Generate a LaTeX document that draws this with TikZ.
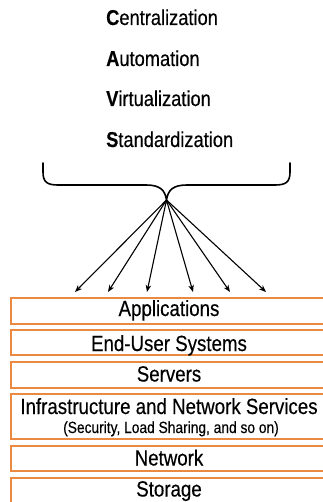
\documentclass[tikz,border=0pt]{standalone}
\usepackage{fontspec}
\setmainfont{Liberation Sans}[FakeStretch=0.85,FakeBold=0.35]
\usetikzlibrary{arrows.meta}
\definecolor{boxorange}{RGB}{234,138,66}
\tikzset{
  layer/.style={draw=boxorange, line width=1.6pt, minimum width=318pt, anchor=north west, inner sep=0pt, align=center},
  big/.style={font=\fontsize{22}{24}\selectfont},
  small/.style={font=\fontsize{16.2}{18}\selectfont},
  lbl/.style={anchor=base, inner sep=0pt},
  term/.style={anchor=base west, inner sep=0pt, font=\fontsize{21.5}{24}\selectfont},
  conn/.style={line width=1.1pt, -{Stealth[length=7pt,width=5.5pt,inset=2pt]}},
  bracestyle/.style={line width=1.6pt, line cap=round}
}
\begin{document}
\begin{tikzpicture}[x=1pt,y=-1pt]
\useasboundingbox (0,0) rectangle (322,502);
% terms
\node[term] (c) at (106,25) {\textbf{C}entralization};
\node[term] (a) at (106,66) {\textbf{A}utomation};
\node[term] (v) at (106,106) {\textbf{V}irtualization};
\node[term] (s) at (106,147) {\textbf{S}tandardization};
% brace
\draw[bracestyle] (43,163) -- (43,172) .. controls (43,182) and (47,185) .. (58,185) -- (146,185)
  .. controls (160,185) and (165,190) .. (166.5,200)
  .. controls (168,190) and (173,185) .. (187,185) -- (275,185)
  .. controls (286,185) and (290,182) .. (290,172) -- (290,163);
\coordinate (cusp) at (166.5,200);
\coordinate (e1) at (75,292);
\coordinate (e2) at (108,292);
\coordinate (e3) at (147,292);
\coordinate (e4) at (193,292);
\coordinate (e5) at (230,292);
\coordinate (e6) at (266,292);
\foreach \e in {e1,e2,e3,e4,e5,e6} \draw[conn] (cusp) -- (\e);
% layers
\node[layer, minimum height=26pt] (app) at (10,297) {};
\node[layer, minimum height=25pt] (eus) at (10,329) {};
\node[layer, minimum height=26pt] (srv) at (10,361) {};
\node[layer, minimum height=45pt] (inf) at (10,393) {};
\node[layer, minimum height=25pt] (net) at (10,445) {};
\node[layer, minimum height=30pt] (sto) at (10,477) {};
\node[lbl, big] (tapp) at (169,316) {Applications};
\node[lbl, big] (teus) at (169,351) {End-User Systems};
\node[lbl, big] (tsrv) at (169,381.5) {Servers};
\node[lbl, big] (tinf) at (169,414) {Infrastructure and Network Services};
\node[lbl, small] (tinf2) at (171,433) {(Security, Load Sharing, and so on)};
\node[lbl, big] (tnet) at (169,465.5) {Network};
\node[lbl, big] (tsto) at (169,496.5) {Storage};
\end{tikzpicture}
\end{document}
